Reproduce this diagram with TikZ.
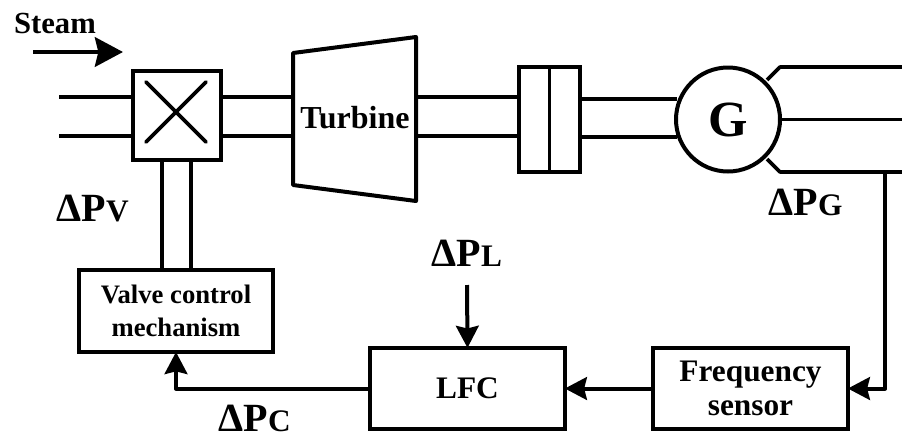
\documentclass[tikz,border=0pt]{standalone}
\usepackage{fontspec}
\setmainfont{Liberation Serif}
\usetikzlibrary{arrows.meta,calc}
\newcommand{\dpl}[1]{{\fontsize{30}{30}\selectfont\bfseries Δ\kern0.5pt P}{\fontsize{23.5}{23.5}\selectfont\bfseries #1}}
\tikzset{
    pipe/.style={line width=2.7pt},
    flow/.style={line width=3pt,line join=round,-{Stealth[length=16.5pt,width=17pt,inset=2pt]}},
    blockbox/.style={draw,line width=3pt,inner sep=0pt,outer sep=0pt,align=center,font=\fontsize{#1}{25}\selectfont\bfseries},
    blockbox/.default=23.5,
    lbl/.style={inner sep=0pt,outer sep=0pt},
  }
\begin{document}
\begin{tikzpicture}[x=0.75pt,y=-0.75pt]
	\useasboundingbox (0,0) rectangle (902,436);
	%steam inlet
	\node[lbl,font=\fontsize{23}{25}\selectfont\bfseries] (steam) at (55,23) {Steam};
	\coordinate (sa) at (33,52);
	\coordinate (sb) at (123,52);
	\draw[line width=3.6pt,-{Stealth[length=21pt,width=22pt,inset=2.5pt]}] (sa) -- (sb);
	%valve
	\node[blockbox,minimum width=66pt,minimum height=67pt] (valve) at (177,115.5) {};
	\coordinate (v1) at (59,97);
	\coordinate (v2) at (59,136);
	\coordinate (xa) at (146,82);
	\coordinate (xb) at (206,142);
	\coordinate (xc) at (206,82);
	\coordinate (xd) at (146,142);
	\draw[pipe,line cap=round] (xa) -- (xb) (xc) -- (xd);
	%turbine
	\coordinate (ta) at (293,53);
	\coordinate (tb) at (416,37);
	\coordinate (tc) at (416,201);
	\coordinate (td) at (293,185);
	\draw[blockbox,line join=round] (ta) -- (tb) -- (tc) -- (td) -- cycle;
	\node[lbl,font=\fontsize{24}{25}\selectfont\bfseries] (turbine) at (355,118) {Turbine};
	%coupling
	\node[blockbox,minimum width=46pt,minimum height=79pt] (coupling) at (549.5,119.5) {};
	\draw[pipe] (coupling.north) -- (coupling.south);
	%generator
	\node[draw,circle,line width=3pt,minimum size=78pt,inner sep=0pt,outer sep=0pt,font=\fontsize{38}{38}\selectfont\bfseries] (gen) at (728,119.5) {G};
	\coordinate (g1) at (767,80);
	\coordinate (g2) at (780,67);
	\coordinate (g3) at (902,67);
	\coordinate (g4) at (767,159);
	\coordinate (g5) at (780,172);
	\coordinate (g6) at (902,172);
	\coordinate (g7) at (902,119.5);
	\coordinate (fb) at (885,172);
	%pipes
	\draw[pipe] (v1) -- (v1 -| valve.west) (v2) -- (v2 -| valve.west);
	\draw[pipe] (v1 -| valve.east) -- (v1 -| ta) (v2 -| valve.east) -- (v2 -| ta);
	\draw[pipe] (v1 -| tb) -- (v1 -| coupling.west) (v2 -| tb) -- (v2 -| coupling.west);
	\draw[pipe] ($(coupling.east)+(0,-20.5)$) -- ($(gen.west)+(1,-20.5)$);
	\draw[pipe] ($(coupling.east)+(0,17.5)$) -- ($(gen.west)+(1,17.5)$);
	\draw[pipe,line join=round] (g1) -- (g2) -- (g3);
	\draw[pipe] (gen.east) -- (g7);
	\draw[pipe,line join=round] (g4) -- (g5) -- (g6);
	%control loop
	\node[blockbox=20,minimum width=145.5pt,minimum height=61.5pt] (mech) at (176,311) {Valve control\\mechanism};
	\node[blockbox,minimum width=146pt,minimum height=61pt] (lfc) at (467.5,388.5) {LFC};
	\node[blockbox,minimum width=146pt,minimum height=61pt] (sensor) at (750.5,388.5) {Frequency\\sensor};
	\draw[pipe] (valve.south -| 162,0) -- (mech.north -| 162,0);
	\draw[pipe] (valve.south -| 191,0) -- (mech.north -| 191,0);
	\coordinate (load) at (467,285);
	\draw[flow] (fb) |- (sensor.east);
	\draw[flow] (sensor.west) -- (lfc.east);
	\draw[flow] (load) -- (lfc.north);
	\draw[flow] (lfc.west) -| (mech.south);
	%labels
	\node[lbl,anchor=base west] (pv) at (56,221) {\dpl{V}};
	\node[lbl,anchor=base west] (pg) at (768,215) {\dpl{G}};
	\node[lbl,anchor=base west] (pl) at (431,266) {\dpl{L}};
	\node[lbl,anchor=base west] (pc) at (218,431) {\dpl{C}};
\end{tikzpicture}
\end{document}
